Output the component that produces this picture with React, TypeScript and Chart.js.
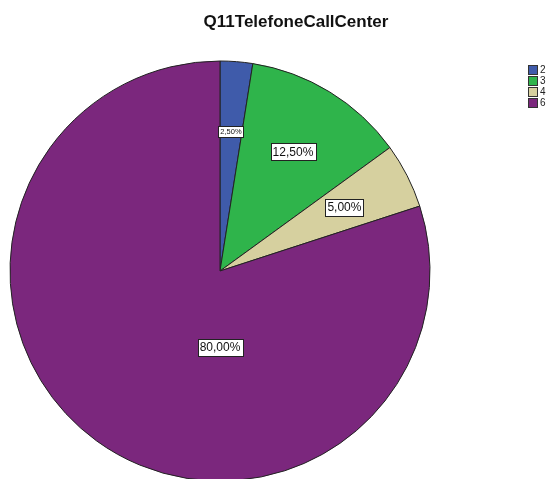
import React, { useEffect, useRef } from "react";
import { Chart, registerables } from "chart.js";

Chart.register(...registerables);

const chartTitle = "Q11TelefoneCallCenter";
const categories = ["2", "3", "4", "6"];
const percentages = [2.5, 12.5, 5.0, 80.0];
const sliceColors = ["#3F5BAA", "#2FB44B", "#D6D09F", "#7B277D"];

const fmt = (v: number) => v.toFixed(2).replace(".", ",") + "%";

const overlayPlugin = {
  id: "spssOverlay",
  afterDatasetsDraw(chart: any) {
    const ctx = chart.ctx as CanvasRenderingContext2D;
    const meta = chart.getDatasetMeta(0);
    const values = chart.data.datasets[0].data as number[];
    ctx.save();
    meta.data.forEach((arc: any, i: number) => {
      const { x, y, startAngle, endAngle, outerRadius } = arc.getProps(
        ["x", "y", "startAngle", "endAngle", "outerRadius"],
        true
      );
      const circ = endAngle - startAngle;
      let lx: number, ly: number;
      if (circ > Math.PI) {
        lx = x;
        ly = y + outerRadius * 0.365;
      } else {
        const mid = (startAngle + endAngle) / 2;
        lx = x + Math.cos(mid) * outerRadius * 0.665;
        ly = y + Math.sin(mid) * outerRadius * 0.665;
      }
      const size = circ < 0.2 ? 7.5 : 12;
      ctx.font = `${size}px "Liberation Sans", Arial, sans-serif`;
      const text = fmt(values[i]);
      const w = ctx.measureText(text).width;
      const padX = size < 10 ? 2 : 2;
      const h = size < 10 ? 11 : 17;
      const bx = Math.round(lx - w / 2 - padX) + 0.5;
      const by = Math.round(ly - h / 2) + 0.5;
      ctx.fillStyle = "#FFFFFF";
      ctx.fillRect(bx, by, Math.round(w + padX * 2), h);
      ctx.strokeStyle = "#222222";
      ctx.lineWidth = 1;
      ctx.strokeRect(bx, by, Math.round(w + padX * 2), h);
      ctx.fillStyle = "#111111";
      ctx.textAlign = "center";
      ctx.textBaseline = "middle";
      ctx.fillText(text, lx, ly + 0.5);
    });

    // title
    ctx.font = 'bold 17px "Liberation Sans", Arial, sans-serif';
    ctx.fillStyle = "#111111";
    ctx.textAlign = "center";
    ctx.textBaseline = "middle";
    ctx.fillText(chartTitle, 296, 22);

    // legend
    const labels = chart.data.labels as string[];
    const bg = chart.data.datasets[0].backgroundColor as string[];
    ctx.font = '10px "Liberation Sans", Arial, sans-serif';
    ctx.textAlign = "left";
    labels.forEach((lab, i) => {
      const cy = 70 + i * 11;
      ctx.fillStyle = bg[i];
      ctx.fillRect(528.5, cy - 4.5, 9, 9);
      ctx.strokeStyle = "#333333";
      ctx.strokeRect(528.5, cy - 4.5, 9, 9);
      ctx.fillStyle = "#222222";
      ctx.fillText(lab, 540, cy + 0.5);
    });
    ctx.restore();
  },
};

export default function App() {
  const ref = useRef<HTMLCanvasElement | null>(null);
  useEffect(() => {
    if (!ref.current) return;
    const chart = new Chart(ref.current, {
      type: "pie",
      data: {
        labels: categories,
        datasets: [
          {
            data: percentages,
            backgroundColor: sliceColors,
            borderColor: "#222222",
            borderWidth: 1,
            radius: 210,
            clip: false,
          } as any,
        ],
      },
      options: {
        responsive: false,
        animation: false,
        devicePixelRatio: 1,
        layout: { padding: { left: 10, right: 118, top: 100, bottom: 37 } },
        plugins: {
          legend: { display: false },
          title: { display: false },
          tooltip: { enabled: false },
        },
        events: [],
      },
      plugins: [overlayPlugin],
    });
    return () => chart.destroy();
  }, []);
  return (
    <div style={{ position: "fixed", left: 0, top: 0, width: 548, height: 479, background: "#fff" }}>
      <canvas ref={ref} width={548} height={479} style={{ display: "block" }} />
    </div>
  );
}
